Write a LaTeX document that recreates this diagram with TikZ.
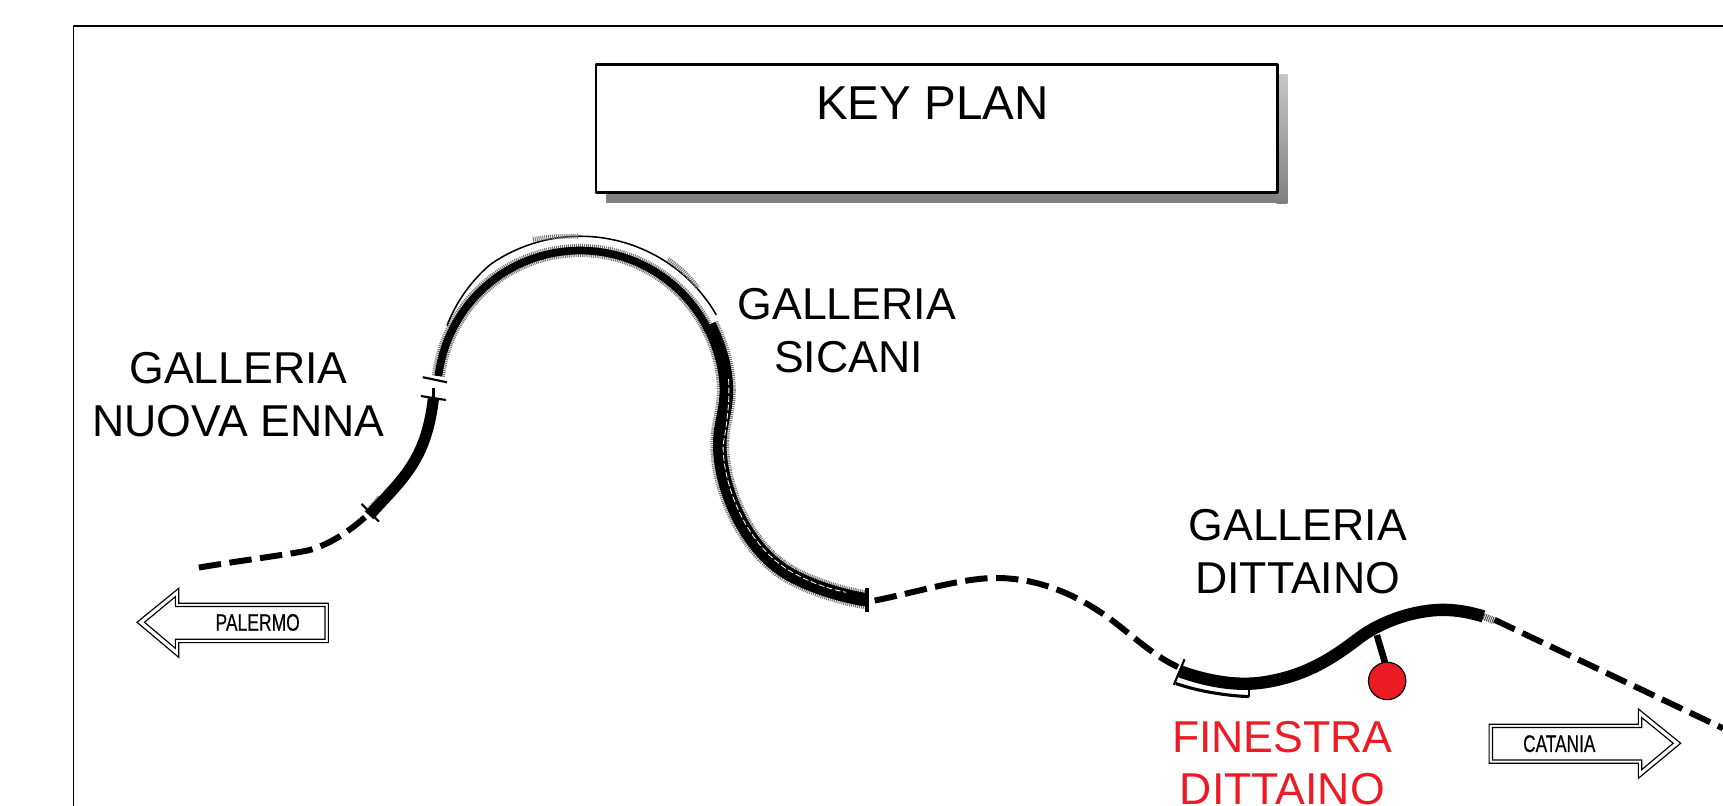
\documentclass[tikz,border=0pt]{standalone}
\usepackage{fontspec}
\setmainfont{Liberation Sans}
\newfontfamily\signfont[FakeBold=0.5]{Liberation Sans}
\definecolor{redmark}{HTML}{ED1C24}
\tikzset{
  frameline/.style={draw=black,line width=.45pt},
  label/.style={align=center,inner sep=0pt,font=\fontsize{11.55}{13.7}\selectfont},
  tiny/.style={inner sep=0pt,font=\signfont\fontsize{6.2}{7}\selectfont},
  dashtrack/.style={line width=1.55pt,dash pattern=on 5.8pt off 2.2pt},
  bar/.style={line width=.55pt},
  thin/.style={line width=.4pt},
  signline/.style={line width=.3pt,join=miter},
  fuzzy/.style={black!55,dash pattern=on .25pt off .25pt},
}
\begin{document}
\begin{tikzpicture}[x=.01cm,y=-.01cm,line join=round]
\useasboundingbox (0,0) rectangle (1568,733.5);
\fill[white] (0,0) rectangle (1568,733.5);
% frame
\draw[frameline] (1568,24) -- (67,24) -- (67,733.5);
% key plan box
\fill[black!50] (551.5,175) rectangle (1171.5,185);
\shade[top color=black!22,bottom color=black!50] (1161.5,68) rectangle (1171.5,185);
\node[draw=black,line width=.55pt,fill=white,minimum width=6.195cm,minimum height=1.165cm,anchor=north west,inner sep=0pt] (keybox) at (541.7,57.7) {};
\node[inner sep=0pt,font=\fontsize{12.3}{14}\selectfont] (keytitle) at (848.5,94) {KEY PLAN};
% labels
\node[label] (nuovaenna) at (217,359.5) {GALLERIA\\NUOVA ENNA};
\node[label] (sicani) at (770.5,301) {GALLERIA\\\hspace*{1pt}SICANI};
\node[label] (dittaino) at (1181,502) {GALLERIA\\DITTAINO};
\node[label,text=redmark] (finestra) at (1167,694.5) {FINESTRA\\DITTAINO};
% dashed parts
\draw[dashtrack] (181,516.5) .. controls (220,510) and (260,505) .. (280,501) .. controls (300,496) and (320,482) .. (334,469);
\draw[dashtrack] (796,546.5) .. controls (830,540) and (875,526) .. (906,526) .. controls (950,526) and (985,545) .. (1010,563) .. controls (1030,578) and (1050,597) .. (1072,607);
\draw[dashtrack] (1360,564) -- (1568,662.8);
% Nuova Enna solid
\draw[fuzzy,line width=3.3pt] (336,469) -- (348,455);
\draw[line width=2.9pt] (336,469) .. controls (365,437) and (388,420) .. (394.5,362);
\draw[bar] (329,458.6) -- (344.8,474.7);
\draw[bar] (383,360.4) -- (405.7,364);
\draw[bar] (384.8,343.3) -- (406.8,347.9);
\draw[line width=.9pt] (394.6,353) -- (394.6,362);
% Sicani: fuzz
\draw[fuzzy,line width=3.4pt] plot[domain=173:26,samples=70,smooth] ({528+130*cos(\x)},{358-130*sin(\x)});
\draw[fuzzy,line width=4.9pt] (645.4,295.6) .. controls (655,315) and (661,335) .. (661,355) .. controls (661,375) and (655,385) .. (655,405) .. controls (655,445) and (680,505) .. (725,526) .. controls (745,536) and (770,543) .. (789,546);
% Sicani: lines
\draw[line width=2pt] plot[domain=173:26,samples=70,smooth] ({528+130*cos(\x)},{358-130*sin(\x)});
\draw[line width=3.5pt] (645.4,295.6) .. controls (655,315) and (661,335) .. (661,355) .. controls (661,375) and (655,385) .. (655,405) .. controls (655,445) and (680,505) .. (725,526) .. controls (745,536) and (770,543) .. (789,546);
\draw[thin] plot[domain=153:30,samples=60,smooth] ({528+(143-.25*max(\x-125,0))*cos(\x)},{358-(143-.25*max(\x-125,0))*sin(\x)});
\draw[white,line width=.22pt,dash pattern=on 1.5pt off .7pt] (663,345) .. controls (664,360) and (663,378) .. (658,405) .. controls (658,445) and (682,503) .. (727,524) .. controls (740,531) and (755,536) .. (770,539);
\draw[fuzzy,line width=1.2pt] (485,218) .. controls (500,215) and (515,215) .. (527,215);
\draw[fuzzy,line width=1.2pt] (608,236) .. controls (618,243) and (628,252) .. (635,262);
\draw[line width=.8pt] (789,535) -- (789,557);
% Dittaino
\draw[line width=3.2pt] (1074,611) .. controls (1105,622) and (1130,624) .. (1150,621) .. controls (1190,615) and (1215,597) .. (1235,582) .. controls (1258,564) and (1290,555) .. (1313,555) .. controls (1328,555) and (1340,558) .. (1350,561);
\draw[black!70,line width=1.8pt,dash pattern=on .25pt off .25pt] (1350,561) -- (1360,565);
\draw[line width=.8pt] (1136.5,634) .. controls (1115,633) and (1090,629) .. (1070,622);
\draw[line width=.5pt] (1136.5,628) -- (1136.5,634);
\draw[bar] (1078,600) -- (1068.2,623.3);
% window branch
\draw[line width=1.7pt] (1253,578) -- (1260.7,604);
\node[circle,draw=black,line width=.3pt,fill=redmark,minimum size=.34cm,inner sep=0pt] (window) at (1262.4,619.7) {};
% palermo arrow
\draw[signline] (124.7,566.3) -- (162.6,535.4) -- (162.6,549) -- (298.8,549) -- (298.8,584.8) -- (162.6,584.8) -- (162.6,598.2) -- cycle;
\draw[signline] (131.5,566.3) -- (159.6,543) -- (159.6,552) -- (295.8,552) -- (295.8,581.8) -- (159.6,581.8) -- (159.6,590) -- cycle;
\node[tiny] (palermo) at (234.5,566.5) {\scalebox{.73}[1]{PALERMO}};
% catania arrow
\draw[signline] (1529.5,676.4) -- (1491,645.2) -- (1491,659.1) -- (1355.2,659.1) -- (1355.2,694.6) -- (1491,694.6) -- (1491,708.3) -- cycle;
\draw[signline] (1522.7,676.4) -- (1494,653) -- (1494,662.1) -- (1358.2,662.1) -- (1358.2,691.6) -- (1494,691.6) -- (1494,700.5) -- cycle;
\node[tiny] (catania) at (1419,676.8) {\scalebox{.72}[1]{CATANIA}};
\end{tikzpicture}
\end{document}
